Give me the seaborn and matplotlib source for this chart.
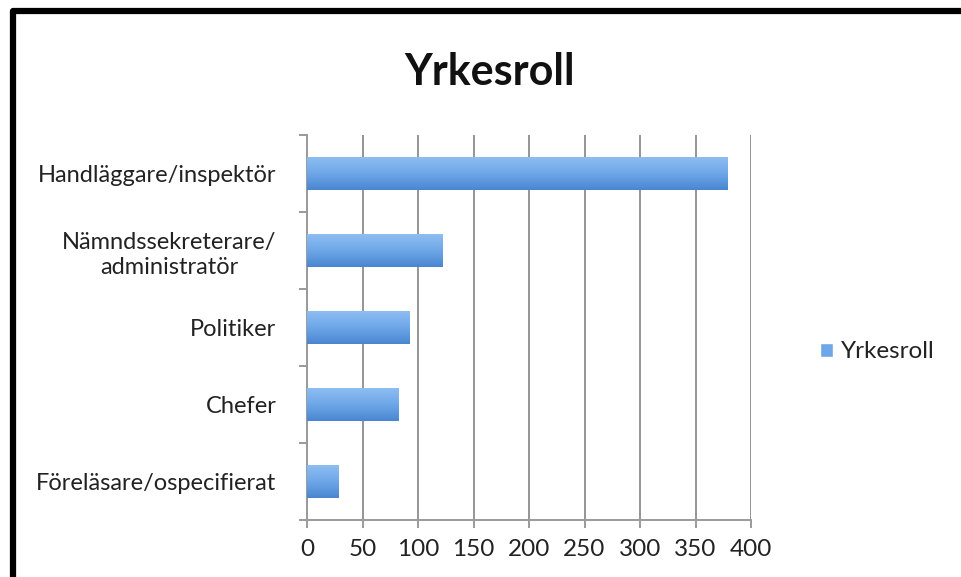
import numpy as np
import pandas as pd
import matplotlib
matplotlib.use("Agg")
import matplotlib.pyplot as plt
from matplotlib.lines import Line2D
from matplotlib.patches import Patch
import seaborn as sns

# data
roles = ["Handläggare/inspektör", "Nämndssekreterare/\nadministratör",
         "Politiker", "Chefer", "Föreläsare/ospecifierat"]
counts = [379, 122, 92, 82, 28]
xticks = [0, 50, 100, 150, 200, 250, 300, 350, 400]
series_name = "Yrkesroll"

sns.set_style("white")
plt.rcParams["font.family"] = ["Lato", "DejaVu Sans"]

df = pd.DataFrame({"Roll": roles, "Antal": counts})

fig = plt.figure(figsize=(9.61, 5.77), dpi=100)
ax = fig.add_axes([0.3195, 0.0988, 0.462, 0.667])

sns.barplot(data=df, y="Roll", x="Antal", orient="h", color="#5b97dc",
            width=0.42, ax=ax, saturation=1)

# vertical gradient on each bar, clipped to the bar
grad = np.linspace(0, 1, 64).reshape(-1, 1)
cmap = matplotlib.colors.LinearSegmentedColormap.from_list(
    "bar", ["#8dbdf2", "#6ea7e8", "#4a86d0"])
for p in ax.patches:
    x0, y0 = p.get_x(), p.get_y()
    w, h = p.get_width(), p.get_height()
    im = ax.imshow(grad, cmap=cmap, aspect="auto",
                   extent=(x0, x0 + w, y0 + h, y0), zorder=3)
    im.set_clip_path(p)
    p.set_facecolor("none")
    p.set_edgecolor("none")

ax.set_xlim(0, 400)
ax.set_ylim(4.5, -0.5)
ax.set_xticks(xticks)
ax.set_xticklabels([str(t) for t in xticks])
ax.set_xlabel("")
ax.set_ylabel("")

ax.grid(axis="x", color="#959595", linewidth=1.4, zorder=0)
ax.set_axisbelow(True)
for s in ["top", "right"]:
    ax.spines[s].set_visible(False)
for s in ["left", "bottom"]:
    ax.spines[s].set_color("#9a9a9a")
    ax.spines[s].set_linewidth(1.4)

ax.tick_params(axis="x", direction="out", length=6, width=1.4, color="#9a9a9a",
               labelsize=17.5, labelcolor="#222222", pad=8, bottom=True)
ax.set_yticks(np.arange(-0.5, 5, 1), minor=True)
ax.tick_params(axis="y", which="major", length=0, pad=22,
               labelsize=17, labelcolor="#222222")
ax.tick_params(axis="y", which="minor", direction="out", length=6, width=1.4,
               color="#9a9a9a", left=True)
for lbl in ax.get_yticklabels():
    lbl.set_multialignment("center")
    lbl.set_linespacing(1.25)

fig.text(0.51, 0.875, "Yrkesroll", ha="center", va="center",
         fontsize=31, fontweight="bold", color="#111111")

fig.legend(handles=[Patch(facecolor="#6ea7e8", label=series_name)],
           loc="center left", bbox_to_anchor=(0.831, 0.39), frameon=False,
           handlelength=0.5, handleheight=0.5, handletextpad=0.35,
           fontsize=17.5, labelcolor="#222222")

# black frame on top and left edge of the screenshot
fig.add_artist(Line2D([0.0135, 0.0135, 1.0], [0.0, 0.981, 0.981],
                      transform=fig.transFigure, color="black", linewidth=4.5))

fig.savefig("out.png", dpi=100, facecolor="white")
